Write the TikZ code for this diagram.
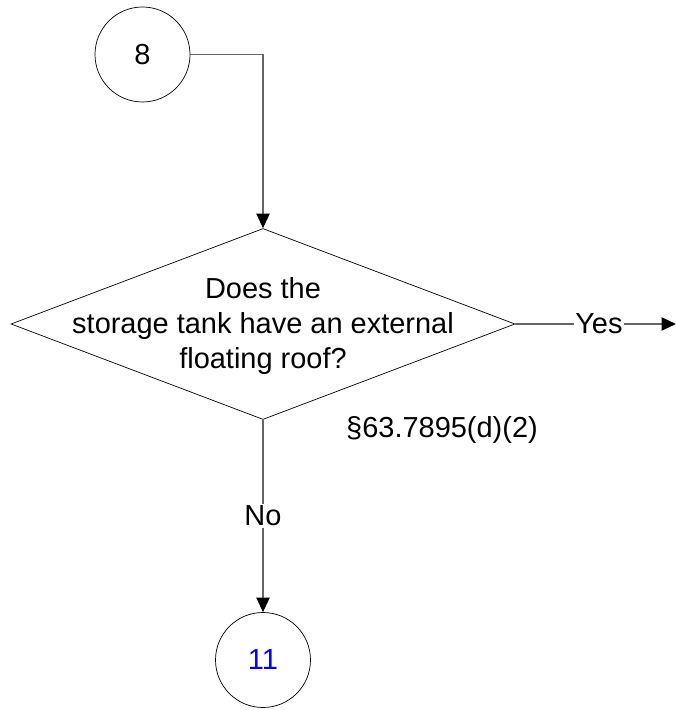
\documentclass[tikz,border=0pt]{standalone}
\usepackage{fontspec}
\setmainfont{Liberation Sans}
\usepackage{xcolor}
\usetikzlibrary{shapes.geometric, positioning, arrows.meta}

\tikzset{
	conn/.style={circle, draw=black, line width=0.5pt, minimum size=2.375cm, inner sep=0pt},
	decision/.style={diamond, draw=black, line width=0.5pt, minimum width=12.6cm, minimum height=4.775cm, inner sep=0pt},
	flow/.style={draw=black!60, line width=0.9pt, -{Triangle[length=0.36cm, width=0.33cm, color=black]}},
	lbl/.style={inner sep=1pt}
}

\begin{document}
\begin{tikzpicture}[font=\fontsize{20.6}{24.9}\selectfont]
				  \useasboundingbox (0,0) rectangle (16.9,17.75);
				  \node[conn] (c8) at (3.5625,16.3875) {8};
				  \node[decision] (roof) at (6.575,9.65) {};
				  \node[align=center, lbl] (rooftext) at (6.575,9.6) {Does the\\storage tank have an external\\floating roof?};
				  \node[conn] (c11) at (6.575,1.25) {\textcolor{blue}{11}};
				  \coordinate (bend) at (6.575,16.3875);
				  \coordinate (yesend) at (16.9,9.65);
				  \draw[flow] (c8.east) -- (bend) -- (roof.north);
				  \draw[flow] (roof.east) -- node[fill=white, lbl, pos=0.52] (yes) {Yes} (yesend);
				  \draw[flow] (roof.south) -- node[fill=white, lbl, pos=0.5] (no) {No} (c11.north);
				  \node[anchor=base] (cite) at (11.05,6.8) {\S63.7895(d)(2)};
				\end{tikzpicture}
\end{document}
